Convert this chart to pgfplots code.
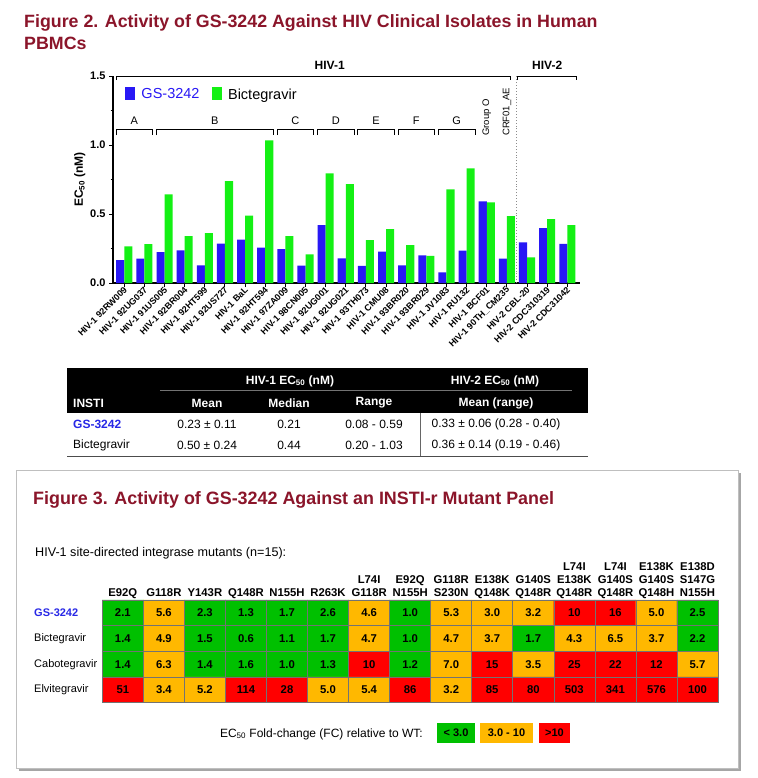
\documentclass[border=0pt]{standalone}
\usepackage{pgfplots}
\pgfplotsset{compat=1.18}
\usepackage{fontspec}
\setmainfont{Liberation Sans}
\definecolor{titlered}{RGB}{139,21,42}
\definecolor{gsblue}{RGB}{40,24,245}
\definecolor{bicgreen}{RGB}{20,240,20}
\definecolor{tblue}{RGB}{40,40,230}
\definecolor{cgreen}{RGB}{0,192,0}
\definecolor{corange}{RGB}{255,184,0}
\definecolor{cred}{RGB}{255,0,0}
\newcommand{\fs}[1]{\fontsize{#1}{#1}\selectfont}
\begin{document}
\begin{tikzpicture}[x=1pt,y=1pt]
\path[use as bounding box, fill=white] (0,0) rectangle (757,-778);
\coordinate (barSW) at (113,-283);
\coordinate (heatSW) at (102.3,-702.7);
% ---------- Figure 2 title
\node[anchor=base west, inner sep=0, text=titlered, font=\bfseries\fs{17.8}] at (24,-28) {Figure 2. Activity of GS-3242 Against HIV Clinical Isolates in Human};
\node[anchor=base west, inner sep=0, text=titlered, font=\bfseries\fs{17.8}] at (24,-50) {PBMCs};
% ---------- bar chart
\begin{axis}[
  at={(barSW)}, anchor=south west, scale only axis,
  width=467pt, height=207pt,
  xmin=-0.56, xmax=22.63, ymin=0, ymax=1.5,
  axis lines=left, axis line style={-, line width=1.1pt},
  ybar=0pt, bar width=0.4,
  clip=false,
  xtick={0,...,22},
  xticklabels={HIV-1 92RW009, HIV-1 92UG037, HIV-1 91US005, HIV-1 92BR004, HIV-1 92HT599, HIV-1 92US727, HIV-1 BaL, HIV-1 92HT594, HIV-1 97ZA009, HIV-1 98CN005, HIV-1 92UG001, HIV-1 92UG021, HIV-1 93TH073, HIV-1 CMU08, HIV-1 93BR020, HIV-1 93BR029, HIV-1 JV1083, HIV-1 RU132, HIV-1 BCF01, HIV-1 90TH\_CM235, HIV-2 CBL-20, HIV-2 CDC310319, HIV-2 CDC31042},
  xticklabel style={rotate=45, anchor=east, font=\bfseries\fs{9}, inner sep=1pt, yshift=-2pt, xshift=1pt},
  ytick={0,0.5,1,1.5}, minor ytick={0.25,0.75,1.25},
  yticklabel style={font=\bfseries\fs{11}, /pgf/number format/.cd, fixed, fixed zerofill, precision=1, assume math mode=true},
  tick align=outside, tick style={black, line width=1pt},
  major tick length=4pt, minor tick length=2.5pt,
  ylabel={EC\textsubscript{50} (nM)},
  ylabel style={font=\bfseries\fs{12}, at={(axis description cs:-0.071,0.5)}, anchor=center},
  legend style={at={(axis description cs:0.025,0.95)}, anchor=north west, draw=none, fill=none,
    legend columns=2, font=\fs{14.5}, inner xsep=0pt, inner ysep=0pt,
    /tikz/every odd column/.append style={column sep=4pt},
    /tikz/every even column/.append style={column sep=10pt}},
]
\addplot[fill=gsblue, draw=none, legend image code/.code={\fill[gsblue] (0pt,-5.5pt) rectangle (10.6pt,7.8pt);}] coordinates {
(0,0.165) (1,0.177) (2,0.223) (3,0.237) (4,0.128) (5,0.286) (6,0.315) (7,0.257) (8,0.245) (9,0.126) (10,0.419) (11,0.179) (12,0.125) (13,0.228) (14,0.128) (15,0.201) (16,0.077) (17,0.235) (18,0.591) (19,0.177) (20,0.295) (21,0.397) (22,0.283)};
\addlegendentry{\textcolor{gsblue}{GS-3242}}
\addplot[fill=bicgreen, draw=none, legend image code/.code={\fill[bicgreen] (0pt,-5.5pt) rectangle (10.6pt,7.8pt);}] coordinates {
(0,0.266) (1,0.281) (2,0.642) (3,0.339) (4,0.361) (5,0.738) (6,0.489) (7,1.034) (8,0.339) (9,0.208) (10,0.794) (11,0.717) (12,0.310) (13,0.390) (14,0.274) (15,0.197) (16,0.678) (17,0.830) (18,0.584) (19,0.484) (20,0.186) (21,0.462) (22,0.419)};
\addlegendentry{Bictegravir}
% group brackets
\draw[line width=1pt] (-0.4,1.072) |- (1.42,1.109) -- (1.42,1.072);
\draw[line width=1pt] (1.6,1.072) |- (7.42,1.109) -- (7.42,1.072);
\draw[line width=1pt] (7.6,1.072) |- (9.42,1.109) -- (9.42,1.072);
\draw[line width=1pt] (9.6,1.072) |- (11.42,1.109) -- (11.42,1.072);
\draw[line width=1pt] (11.6,1.072) |- (13.42,1.109) -- (13.42,1.072);
\draw[line width=1pt] (13.6,1.072) |- (15.42,1.109) -- (15.42,1.072);
\draw[line width=1pt] (15.6,1.072) |- (17.42,1.109) -- (17.42,1.072);
\node[font=\fs{11}] at (0.5,1.174) {A};
\node[font=\fs{11}] at (4.5,1.174) {B};
\node[font=\fs{11}] at (8.5,1.174) {C};
\node[font=\fs{11}] at (10.5,1.174) {D};
\node[font=\fs{11}] at (12.5,1.174) {E};
\node[font=\fs{11}] at (14.5,1.174) {F};
\node[font=\fs{11}] at (16.5,1.174) {G};
\node[font=\fs{9.5}, rotate=90, anchor=west, inner sep=0] at (18,1.065) {Group O};
\node[font=\fs{9.5}, rotate=90, anchor=west, inner sep=0] at (19,1.065) {CRF01\_AE};
\draw[line width=1pt] (-0.41,1.471) |- (19.2,1.5) -- (19.2,1.471);
\draw[line width=1pt] (19.55,1.471) |- (22.47,1.5) -- (22.47,1.471);
\node[font=\bfseries\fs{12}] at (10.2,1.58) {HIV-1};
\node[font=\bfseries\fs{12}] at (21.0,1.58) {HIV-2};
\draw[black!45, dotted, line width=0.9pt] (19.48,0) -- (19.48,1.5);
\end{axis}
% ---------- summary table
\fill[black] (67,-368) rectangle (588,-413);
\node[text=white, font=\bfseries\fs{12}] at (290,-381) {HIV-1 EC\textsubscript{50} (nM)};
\node[text=white, font=\bfseries\fs{12}] at (495,-381) {HIV-2 EC\textsubscript{50} (nM)};
\draw[black!55, line width=0.8pt] (160,-390) -- (572,-390);
\node[text=white, font=\bfseries\fs{12}, anchor=west, inner sep=0] at (73,-403) {INSTI};
\node[text=white, font=\bfseries\fs{12}] at (207,-403) {Mean};
\node[text=white, font=\bfseries\fs{12}] at (289,-403) {Median};
\node[text=white, font=\bfseries\fs{12}] at (374,-403) {Range};
\node[text=white, font=\bfseries\fs{12}] at (496,-403) {Mean (range)};
\node[text=tblue, font=\bfseries\fs{12}, anchor=west, inner sep=0] at (73,-424) {GS-3242};
\node[font=\fs{12}] at (207,-424) {0.23 ± 0.11};
\node[font=\fs{12}] at (289,-424) {0.21};
\node[font=\fs{12}] at (374,-424) {0.08 - 0.59};
\node[font=\fs{12}] at (496,-424) {0.33 ± 0.06 (0.28 - 0.40)};
\node[font=\fs{12}, anchor=west, inner sep=0] at (73,-445) {Bictegravir};
\node[font=\fs{12}] at (207,-445) {0.50 ± 0.24};
\node[font=\fs{12}] at (289,-445) {0.44};
\node[font=\fs{12}] at (374,-445) {0.20 - 1.03};
\node[font=\fs{12}] at (496,-445) {0.36 ± 0.14 (0.19 - 0.46)};
\draw[black!60, line width=1pt] (420,-413) -- (420,-456);
\draw[black!70, line width=1pt] (67,-456) -- (588,-456);
% ---------- Figure 3 box
\draw[black!35, line width=3pt] (739.5,-473) -- (739.5,-769.5) -- (19,-769.5);
\draw[black!25, line width=1pt] (16,-470) rectangle (738,-768);
\node[anchor=base west, inner sep=0, text=titlered, font=\bfseries\fs{17.9}] at (33,-504) {Figure 3. Activity of GS-3242 Against an INSTI-r Mutant Panel};
\node[anchor=base west, inner sep=0, font=\fs{12.6}] at (35,-556) {HIV-1 site-directed integrase mutants (n=15):};
% column headers (one node per line, baselines 570/583/596)
\foreach \j/\t in {0/E92Q, 1/G118R, 2/Y143R, 3/Q148R, 4/N155H, 5/R263K, 6/G118R, 7/N155H, 8/S230N, 9/Q148K, 10/Q148R, 11/Q148R, 12/Q148R, 13/Q148H, 14/N155H}
  \node[anchor=base, inner sep=0, font=\bfseries\fs{11.3}] at (122.8+41.05*\j,-596) {\t};
\foreach \j/\t in {6/L74I, 7/E92Q, 8/G118R, 9/E138K, 10/G140S, 11/E138K, 12/G140S, 13/G140S, 14/S147G}
  \node[anchor=base, inner sep=0, font=\bfseries\fs{11.3}] at (122.8+41.05*\j,-583) {\t};
\foreach \j/\t in {11/L74I, 12/L74I, 13/E138K, 14/E138D}
  \node[anchor=base, inner sep=0, font=\bfseries\fs{11.3}] at (122.8+41.05*\j,-570) {\t};
% row labels
\node[anchor=west, inner sep=0, text=tblue, font=\bfseries\fs{11}] at (34,-612.8) {GS-3242};
\node[anchor=west, inner sep=0, font=\fs{11}] at (34,-638.5) {Bictegravir};
\node[anchor=west, inner sep=0, font=\fs{11}] at (34,-664.2) {Cabotegravir};
\node[anchor=west, inner sep=0, font=\fs{11}] at (34,-689.9) {Elvitegravir};
\begin{axis}[
  at={(heatSW)}, anchor=south west, scale only axis,
  width=615.7pt, height=102.7pt,
  xmin=-0.5, xmax=14.5, ymin=-0.5, ymax=3.5, y dir=reverse,
  axis line style={black!55, line width=0.6pt},
  xtick=\empty, ytick=\empty,
  extra x ticks={0.5,1.5,...,13.5}, extra y ticks={0.5,1.5,2.5},
  extra x tick labels={}, extra y tick labels={},
  extra tick style={grid=major, major grid style={black!55, line width=0.6pt}, major tick length=0pt},
  axis on top,
  colormap={fc}{rgb255=(0,192,0) rgb255=(255,184,0) rgb255=(255,0,0)},
  point meta min=0, point meta max=2,
  clip=false,
]
\addplot[matrix plot*, mesh/cols=15, point meta=explicit] coordinates {
(0,0) [0] (1,0) [1] (2,0) [0] (3,0) [0] (4,0) [0] (5,0) [0] (6,0) [1] (7,0) [0] (8,0) [1] (9,0) [1] (10,0) [1] (11,0) [2] (12,0) [2] (13,0) [1] (14,0) [0]

(0,1) [0] (1,1) [1] (2,1) [0] (3,1) [0] (4,1) [0] (5,1) [0] (6,1) [1] (7,1) [0] (8,1) [1] (9,1) [1] (10,1) [0] (11,1) [1] (12,1) [1] (13,1) [1] (14,1) [0]

(0,2) [0] (1,2) [1] (2,2) [0] (3,2) [0] (4,2) [0] (5,2) [0] (6,2) [2] (7,2) [0] (8,2) [1] (9,2) [2] (10,2) [1] (11,2) [2] (12,2) [2] (13,2) [2] (14,2) [1]

(0,3) [2] (1,3) [1] (2,3) [1] (3,3) [2] (4,3) [2] (5,3) [1] (6,3) [1] (7,3) [2] (8,3) [1] (9,3) [2] (10,3) [2] (11,3) [2] (12,3) [2] (13,3) [2] (14,3) [2]
};
\addplot[draw=none, mark=none, color=black, point meta=explicit symbolic,
  nodes near coords={\color{black}\pgfplotspointmeta}, nodes near coords align=center,
  every node near coord/.style={font=\bfseries\fs{11.3}, color=black, text=black, anchor=center, inner sep=0}] coordinates {
(0,0) [2.1] (1,0) [5.6] (2,0) [2.3] (3,0) [1.3] (4,0) [1.7] (5,0) [2.6] (6,0) [4.6] (7,0) [1.0] (8,0) [5.3] (9,0) [3.0] (10,0) [3.2] (11,0) [10] (12,0) [16] (13,0) [5.0] (14,0) [2.5]
(0,1) [1.4] (1,1) [4.9] (2,1) [1.5] (3,1) [0.6] (4,1) [1.1] (5,1) [1.7] (6,1) [4.7] (7,1) [1.0] (8,1) [4.7] (9,1) [3.7] (10,1) [1.7] (11,1) [4.3] (12,1) [6.5] (13,1) [3.7] (14,1) [2.2]
(0,2) [1.4] (1,2) [6.3] (2,2) [1.4] (3,2) [1.6] (4,2) [1.0] (5,2) [1.3] (6,2) [10] (7,2) [1.2] (8,2) [7.0] (9,2) [15] (10,2) [3.5] (11,2) [25] (12,2) [22] (13,2) [12] (14,2) [5.7]
(0,3) [51] (1,3) [3.4] (2,3) [5.2] (3,3) [114] (4,3) [28] (5,3) [5.0] (6,3) [5.4] (7,3) [86] (8,3) [3.2] (9,3) [85] (10,3) [80] (11,3) [503] (12,3) [341] (13,3) [576] (14,3) [100]
};
\end{axis}
% ---------- fold-change legend
\node[anchor=base east, inner sep=0, font=\fs{12}] at (423,-737) {EC\textsubscript{50} Fold-change (FC) relative to WT:};
\fill[cgreen] (437,-723) rectangle (475,-743);
\fill[corange] (480,-723) rectangle (533,-743);
\fill[cred] (539,-723) rectangle (570,-743);
\node[font=\bfseries\fs{11}] at (456,-733) {< 3.0};
\node[font=\bfseries\fs{11}] at (506.5,-733) {3.0 - 10};
\node[font=\bfseries\fs{11}] at (554.5,-733) {>10};
\end{tikzpicture}
\end{document}
